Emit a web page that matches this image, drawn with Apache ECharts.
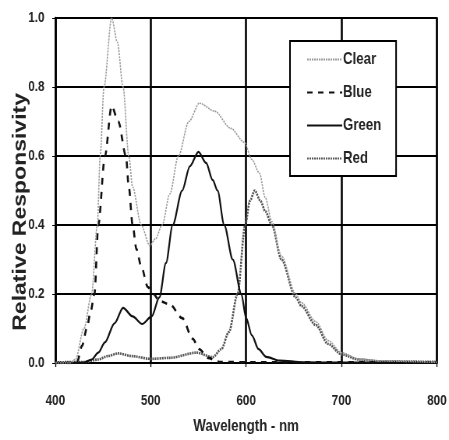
<!DOCTYPE html>
<html><head><meta charset="utf-8">
<script src="https://cdn.jsdelivr.net/npm/echarts@6/dist/echarts.min.js"></script>
<style>
html,body{margin:0;padding:0;background:#fff;overflow:hidden}
#wrap{width:449px;height:440px;overflow:hidden}
#c{width:576px;height:440px;transform:scaleX(0.7795);transform-origin:0 0}
</style>
</head><body><div id="wrap"><div id="c"></div></div>
<script>
var xTicks = [400, 500, 600, 700, 800];
var yTicks = [0.0, 0.2, 0.4, 0.6, 0.8, 1.0];

var clearX = [400,415,421,430,438,444,447,451,459,465,471,477,481,490,499,505,512,520,529,540,551,567,584,598,606,614,620,627,637,652,658,673,686,700,718,740,800];
var clearY = [0,0,0.01,0.1,0.2,0.4,0.6,0.8,1.0,0.93,0.8,0.6,0.51,0.4,0.34,0.36,0.4,0.49,0.6,0.7,0.753,0.73,0.68,0.64,0.59,0.55,0.48,0.41,0.31,0.2,0.175,0.12,0.065,0.03,0.012,0.006,0.002];

var blueX = [400,420,423,428,433,437,441,445,452,459,466,474,477,481,485,490,497,503,509,520,533,544,551,560,572,600,700,800];
var blueY = [0,0,0.005,0.05,0.1,0.15,0.2,0.4,0.6,0.745,0.7,0.6,0.51,0.4,0.33,0.28,0.22,0.2,0.18,0.17,0.13,0.07,0.04,0.015,0.003,0.002,0.002,0.002];

var greenX = [400,430,438,445,452,462,471,481,491,501,509,516,523,533,541,550,558,565,570,577,586,595,600,606,613,621,635,660,700,800];
var greenY = [0,0.001,0.01,0.03,0.06,0.115,0.16,0.135,0.113,0.135,0.19,0.29,0.4,0.5,0.57,0.612,0.58,0.53,0.5,0.4,0.3,0.2,0.13,0.08,0.04,0.018,0.007,0.002,0.001,0.001];

var redX = [400,430,445,455,466,480,500,520,548,565,574,582,591,599,604,609,615,620,627,637,652,658,673,686,700,718,740,800];
var redY = [0.002,0.003,0.01,0.02,0.028,0.02,0.012,0.015,0.03,0.017,0.04,0.09,0.2,0.4,0.47,0.5,0.47,0.44,0.4,0.3,0.19,0.165,0.11,0.055,0.025,0.01,0.005,0.003];

var seriesNames = ['Clear', 'Blue', 'Green', 'Red'];

function pairs(xs, ys){ return xs.map(function(x,i){ return [x, ys[i]]; }); }

var font = '"Liberation Sans", Arial, sans-serif';
var chart = echarts.init(document.getElementById('c'), null, {renderer:'canvas', width:576, height:440});
var base = {type:'line', showSymbol:false, symbol:'none', smooth:0.3, smoothMonotone:'x', animation:false};
chart.setOption({
  animation:false,
  grid:{left:71, right:13, top:18, bottom:69, show:true, borderColor:'#000', borderWidth:2},
  xAxis:{type:'value', min:400, max:800, interval:100,
    axisLine:{show:true, lineStyle:{color:'#000', width:2}},
    axisTick:{show:true, length:4, lineStyle:{color:'#000', width:1.3}},
    splitLine:{show:true, lineStyle:{color:'#000', width:2.6}},
    axisLabel:{color:'#222', fontFamily:font, fontWeight:'bold', fontSize:15, margin:30},
    name:'Wavelength - nm', nameLocation:'middle', nameGap:55,
    nameTextStyle:{color:'#222', fontFamily:font, fontWeight:'bold', fontSize:17}
  },
  yAxis:{type:'value', min:0, max:1, interval:0.2,
    axisLine:{show:true, lineStyle:{color:'#000', width:2.6}},
    axisTick:{show:true, length:4, lineStyle:{color:'#000', width:1}},
    splitLine:{show:true, lineStyle:{color:'#000', width:2}},
    axisLabel:{color:'#222', fontFamily:font, fontWeight:'bold', fontSize:15, margin:14,
      formatter:function(v){ return v.toFixed(1); }}
  },
  graphic:[{type:'text', left:15, top:93, rotation:Math.PI/2, silent:true,
    style:{text:'Relative Responsivity', fill:'#222', font:'bold 23px ' + font}}],
  legend:{orient:'vertical', left:372, top:41, backgroundColor:'#fff', borderColor:'#000', borderWidth:2,
    padding:[10, 19, 9, 21], itemGap:16, itemWidth:45, itemHeight:14,
    itemStyle:{opacity:0},
    textStyle:{color:'#222', fontFamily:font, fontWeight:'bold', fontSize:17, padding:[0,0,0,-4]},
    data:seriesNames},
  series:[
    Object.assign({}, base, {name:seriesNames[0], data:pairs(clearX, clearY), z:5,
      lineStyle:{color:'#9a9a9a', width:1.6, type:[2,1]}, itemStyle:{color:'#9a9a9a'}}),
    Object.assign({}, base, {name:seriesNames[1], data:pairs(blueX, blueY), z:4,
      lineStyle:{color:'#111', width:2.6, type:[7,7]}, itemStyle:{color:'#111'}}),
    Object.assign({}, base, {name:seriesNames[2], data:pairs(greenX, greenY), z:4,
      lineStyle:{color:'#111', width:2.2}, itemStyle:{color:'#111'}}),
    Object.assign({}, base, {name:seriesNames[3], data:pairs(redX, redY), z:3,
      lineStyle:{color:'#555', width:2.6, type:[2,1]}, itemStyle:{color:'#555'}})
  ]
});
</script></body></html>
